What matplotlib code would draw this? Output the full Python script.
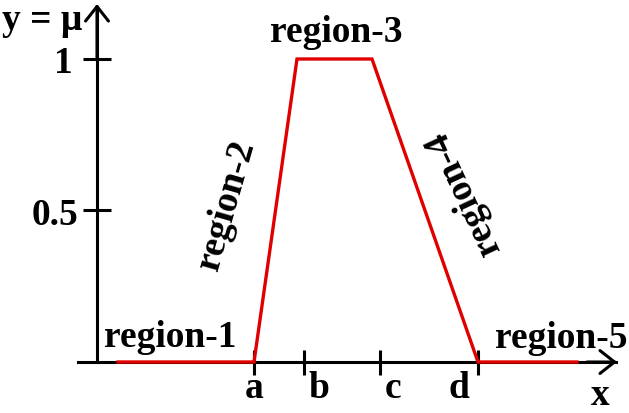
import matplotlib
matplotlib.use("Agg")
import matplotlib.pyplot as plt

# data (x in arbitrary units, mu = membership)
x_points = [0.21, 1.57, 2.00, 2.75, 3.81, 4.80]
mu_points = [0, 0, 1, 1, 0, 0]
x_tick_pos = [1.57, 2.07, 2.83, 3.81]
x_tick_labels = ["a", "b", "c", "d"]
y_tick_pos = [0.5, 1.0]
y_tick_labels = ["0.5", "1"]
region_labels = ["region-1", "region-2", "region-3", "region-4", "region-5"]

FONT = "Liberation Serif"
FS = 27
RED = "#e00000"

fig = plt.figure(figsize=(6.29, 4.14), dpi=100)
ax = fig.add_axes([0, 0, 1, 1])
ax.set_xlim(-0.97, 5.32)
ax.set_ylim(-0.1683, 1.198)
ax.patch.set_alpha(0)

# axes spines as coordinate axes
for s in ["top", "right"]:
    ax.spines[s].set_visible(False)
ax.spines["left"].set_position(("data", 0))
ax.spines["bottom"].set_position(("data", 0))
ax.spines["left"].set_bounds(0, 1.17)
ax.spines["bottom"].set_bounds(-0.19, 5.19)
for s in ["left", "bottom"]:
    ax.spines[s].set_linewidth(2.2)
    ax.spines[s].set_color("black")

ax.set_xticks(x_tick_pos)
ax.set_yticks(y_tick_pos)
ax.set_xticklabels([])
ax.set_yticklabels([])
ax.tick_params(axis="x", direction="inout", length=18, width=2.2, color="black")
ax.tick_params(axis="y", direction="inout", length=19.5, width=2.2, color="black")

# arrow heads
ap = dict(arrowstyle="->,head_length=0.42,head_width=0.33", mutation_scale=25,
          lw=2.2, color="black", shrinkA=0, shrinkB=0)
ax.annotate("", xy=(0, 1.1815), xytext=(0, 1.0), arrowprops=ap)
ax.annotate("", xy=(5.20, 0), xytext=(4.9, 0), arrowprops=ap)

# membership function
ax.plot(x_points, mu_points, color=RED, lw=2.4, solid_joinstyle="miter", zorder=5,
        clip_on=False)

tk = dict(fontfamily=FONT, fontweight="bold", fontsize=FS, color="black")

# tick labels
x_label_offsets = [0.0, 0.15, 0.13, -0.19]
for p, lab, off in zip(x_tick_pos, x_tick_labels, x_label_offsets):
    ax.text(p + off, -0.1155, lab, ha="center", va="baseline", **tk)
y_label_right = [-0.19, -0.24]
for p, lab, xr in zip(y_tick_pos, y_tick_labels, y_label_right):
    ax.text(xr, p, lab, ha="right", va="center_baseline", **tk)

# axis names
ax.text(-0.95, 1.099, "y = μ", ha="left", va="baseline", **tk)
ax.text(5.03, -0.138, "x", ha="center", va="baseline", **tk)

# region labels
ax.text(0.73, 0.053, region_labels[0], ha="center", va="baseline", **tk)
ax.text(1.29, 0.521, region_labels[1], ha="center", va="center", rotation=74,
        rotation_mode="anchor", **tk)
ax.text(2.39, 1.059, region_labels[2], ha="center", va="baseline", **tk)
ax.text(3.66, 0.561, region_labels[3], ha="center", va="center", rotation=115,
        rotation_mode="anchor", **tk)
ax.text(4.64, 0.050, region_labels[4], ha="center", va="baseline", **tk)

fig.savefig("out.png", dpi=100)
